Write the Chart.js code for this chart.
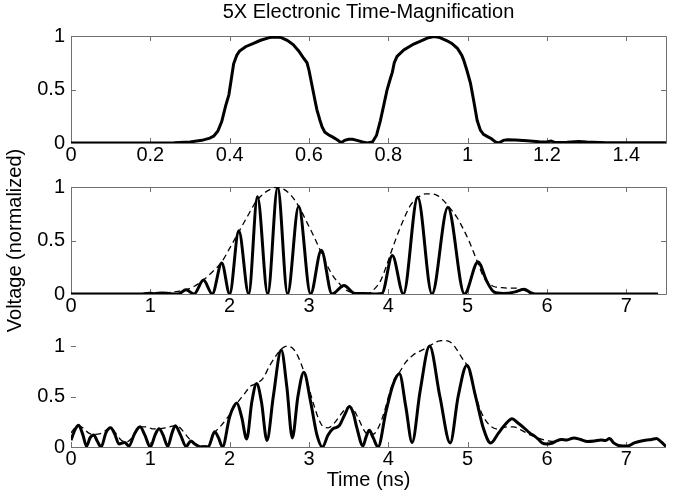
<!DOCTYPE html>
<html>
<head>
<meta charset="utf-8">
<script src="https://cdn.jsdelivr.net/npm/chart.js@4.4.1/dist/chart.umd.min.js"></script>
<style>
  html, body { margin: 0; padding: 0; background: #fff; }
  #wrap { position: relative; width: 674px; height: 495px; overflow: hidden; }
  canvas { position: absolute; left: 0; }
</style>
</head>
<body>
<div id="wrap">
  <canvas id="c1" width="674" height="170" style="top:0px"></canvas>
  <canvas id="c2" width="674" height="235" style="top:130px"></canvas>
  <canvas id="c3" width="674" height="175" style="top:320px"></canvas>
</div>
<script>
// top panel: input pulses (0 - 1.5 ns)
const t1 = [0, 0.1, 0.2, 0.26, 0.3, 0.33, 0.35, 0.36, 0.37, 0.38, 0.39, 0.398, 0.405, 0.41, 0.418, 0.425, 0.44, 0.46, 0.478, 0.5,
  0.515, 0.53, 0.545, 0.56, 0.574, 0.585, 0.595, 0.6, 0.608, 0.615, 0.62, 0.627, 0.633, 0.64, 0.65, 0.66, 0.671, 0.681, 0.69, 0.7,
  0.71, 0.721, 0.735, 0.747, 0.76, 0.77, 0.78, 0.79, 0.797, 0.805, 0.81, 0.815, 0.822, 0.839, 0.864, 0.88, 0.898, 0.915, 0.93, 0.948,
  0.96, 0.974, 0.985, 0.99, 0.998, 1.007, 1.015, 1.024, 1.032, 1.04, 1.05, 1.06, 1.07, 1.078, 1.09, 1.1, 1.12, 1.15, 1.18, 1.2,
  1.21, 1.22, 1.25, 1.28, 1.3, 1.35, 1.4, 1.45, 1.5];
const v1 = [0, 0, 0, 0.002, 0.01, 0.025, 0.045, 0.065, 0.11, 0.2, 0.35, 0.45, 0.62, 0.74, 0.82, 0.86, 0.9, 0.93, 0.96, 0.985,
  0.99, 0.985, 0.96, 0.92, 0.86, 0.8, 0.75, 0.68, 0.53, 0.4, 0.31, 0.22, 0.15, 0.1, 0.075, 0.055, 0.03, 0.003, 0.025, 0.035,
  0.035, 0.025, 0.01, 0, 0.01, 0.07, 0.21, 0.38, 0.5, 0.6, 0.66, 0.75, 0.81, 0.87, 0.925, 0.95, 0.98, 0.995, 0.985, 0.955,
  0.93, 0.885, 0.82, 0.775, 0.68, 0.56, 0.4, 0.21, 0.12, 0.08, 0.06, 0.04, 0.01, 0, 0.025, 0.03, 0.028, 0.02, 0.012, 0.01,
  0.018, 0.005, 0.008, 0.015, 0.01, 0.003, 0.003, 0.002, 0.002];

// middle panel: simulated output (solid) and envelope (dashed)
const t2 = [0, 0.9, 1.0, 1.05, 1.15, 1.25, 1.35, 1.45, 1.55, 1.67, 1.78, 1.9, 2.0, 2.115, 2.24, 2.35, 2.48, 2.605, 2.73, 2.87,
  3.02, 3.155, 3.29, 3.44, 3.58, 3.7, 3.85, 3.92, 4.05, 4.19, 4.37, 4.55, 4.75, 4.96, 5.13, 5.24, 5.33, 5.45, 5.6, 5.71,
  5.8, 5.85, 7.4];
const v2 = [0, 0, 0.008, 0.003, 0.01, 0.003, 0, 0.04, 0, 0.13, 0, 0.29, 0, 0.59, 0, 0.91, 0, 1.0, 0, 0.82,
  0, 0.41, 0, 0.08, 0.005, 0.005, 0, 0.005, 0.36, 0, 0.905, 0, 0.81, 0, 0.3, 0.12, 0.02, 0.005, 0.02, 0.045,
  0.01, 0, 0];
const t2env = [0.8, 1.0, 1.2, 1.35, 1.45, 1.55, 1.65, 1.8, 1.9, 2.01, 2.1, 2.22, 2.33, 2.43, 2.52, 2.6, 2.68, 2.77, 2.87, 2.98,
  3.06, 3.14, 3.22, 3.31, 3.38, 3.44, 3.5, 3.56, 3.65, 3.73, 3.8, 3.9, 3.97, 4.03, 4.15, 4.28, 4.37, 4.47, 4.55, 4.62,
  4.7, 4.78, 4.87, 4.95, 5.02, 5.08, 5.15, 5.2, 5.27, 5.33, 5.42, 5.5, 5.6, 5.67, 5.73, 5.79, 5.85];
const v2env = [0, 0.005, 0.01, 0.025, 0.04, 0.07, 0.12, 0.22, 0.3, 0.44, 0.56, 0.72, 0.86, 0.94, 0.98, 1.0, 0.98, 0.925, 0.82, 0.66,
  0.54, 0.41, 0.28, 0.16, 0.1, 0.05, 0.025, 0.01, 0.003, 0, 0.03, 0.12, 0.25, 0.38, 0.62, 0.83, 0.9, 0.935, 0.935, 0.92,
  0.87, 0.8, 0.71, 0.6, 0.49, 0.38, 0.25, 0.16, 0.1, 0.07, 0.06, 0.055, 0.055, 0.05, 0.03, 0.005, 0];

// bottom panel: measured output (solid) and envelope (dashed)
const t3 = [0, 0.05, 0.097, 0.15, 0.195, 0.24, 0.287, 0.33, 0.38, 0.44, 0.5, 0.55, 0.605, 0.677, 0.73, 0.8, 0.87, 0.93, 1.0, 1.06,
  1.11, 1.16, 1.22, 1.27, 1.315, 1.38, 1.45, 1.51, 1.56, 1.64, 1.73, 1.81, 1.86, 1.91, 2.0, 2.09, 2.15, 2.215, 2.28, 2.34,
  2.4, 2.47, 2.55, 2.65, 2.72, 2.79, 2.86, 2.935, 3.02, 3.1, 3.17, 3.24, 3.3, 3.38, 3.45, 3.51, 3.56, 3.6, 3.68, 3.72,
  3.76, 3.81, 3.87, 3.97, 4.06, 4.14, 4.22, 4.3, 4.4, 4.52, 4.65, 4.78, 4.88, 4.99, 5.1, 5.2, 5.29, 5.39, 5.47, 5.56,
  5.63, 5.71, 5.78, 5.84, 5.9, 5.94, 6.0, 6.07, 6.12, 6.18, 6.25, 6.34, 6.42, 6.51, 6.6, 6.68, 6.74, 6.79, 6.84, 6.9,
  6.96, 7.02, 7.1, 7.19, 7.26, 7.32, 7.38, 7.44, 7.5];
const v3 = [0.066, 0.17, 0.215, 0.12, 0.007, 0.09, 0.12, 0.06, 0, 0.14, 0.19, 0.13, 0.03, 0.045, 0.01, 0.13, 0.2, 0.12, 0, 0.12,
  0.18, 0.12, 0.005, 0.13, 0.21, 0.12, 0.005, 0.06, 0.03, 0, 0, 0.15, 0.09, 0, 0.3, 0.435, 0.3, 0.08, 0.45, 0.63,
  0.45, 0.065, 0.5, 0.96, 0.6, 0.09, 0.5, 0.74, 0.45, 0.12, 0, 0.12, 0.18, 0.21, 0.32, 0.4, 0.33, 0.2, 0.01, 0.1,
  0.165, 0.09, 0, 0.35, 0.62, 0.725, 0.4, 0.045, 0.55, 1.0, 0.5, 0.04, 0.5, 0.81, 0.5, 0.18, 0.04, 0.14, 0.22, 0.28,
  0.24, 0.19, 0.14, 0.11, 0.07, 0.04, 0.03, 0.04, 0.06, 0.075, 0.07, 0.09, 0.075, 0.055, 0.06, 0.07, 0.065, 0.085, 0.04, 0.015,
  0.01, 0.01, 0.04, 0.06, 0.07, 0.075, 0.085, 0.05, 0.005];
const t3env = [0, 0.05, 0.1, 0.15, 0.22, 0.29, 0.36, 0.43, 0.5, 0.57, 0.63, 0.7, 0.78, 0.87, 0.95, 1.03, 1.11, 1.2, 1.3, 1.36,
  1.42, 1.48, 1.55, 1.62, 1.72, 1.8, 1.9, 2.0, 2.09, 2.18, 2.26, 2.34, 2.42, 2.5, 2.58, 2.65, 2.72, 2.79, 2.86, 2.93,
  3.0, 3.06, 3.12, 3.18, 3.24, 3.3, 3.38, 3.45, 3.51, 3.57, 3.63, 3.69, 3.75, 3.82, 3.88, 3.95, 4.02, 4.08, 4.14, 4.22,
  4.31, 4.4, 4.5, 4.6, 4.69, 4.78, 4.85, 4.93, 4.99, 5.06, 5.12, 5.18, 5.24, 5.3, 5.36, 5.43, 5.5, 5.58, 5.67, 5.76,
  5.85, 5.94, 6.02, 6.08];
const v3env = [0.14, 0.19, 0.21, 0.19, 0.14, 0.125, 0.13, 0.16, 0.19, 0.13, 0.07, 0.05, 0.1, 0.2, 0.2, 0.18, 0.18, 0.19, 0.21, 0.2,
  0.15, 0.09, 0.04, 0.01, 0.01, 0.13, 0.22, 0.32, 0.43, 0.52, 0.6, 0.63, 0.68, 0.8, 0.9, 0.97, 1.0, 0.98, 0.9, 0.76,
  0.58, 0.42, 0.28, 0.2, 0.19, 0.22, 0.3, 0.37, 0.4, 0.36, 0.27, 0.17, 0.12, 0.13, 0.2, 0.35, 0.55, 0.68, 0.74, 0.84,
  0.91, 0.95, 0.99, 1.04, 1.055, 1.04, 0.98, 0.88, 0.81, 0.64, 0.46, 0.33, 0.25, 0.2, 0.18, 0.19, 0.2, 0.2, 0.17, 0.13,
  0.1, 0.075, 0.06, 0.055];

// tick values
const xTicksTop = [0, 0.2, 0.4, 0.6, 0.8, 1, 1.2, 1.4];
const xTicksNs = [0, 1, 2, 3, 4, 5, 6, 7];
const yTicks = [0, 0.5, 1];

const FONT = { family: 'Liberation Sans, Arial, sans-serif', size: 20, weight: 'normal' };

const pts = (xs, ys) => xs.map((x, i) => ({ x: x, y: ys[i] }));

// MATLAB style box with inward ticks
const axesBox = {
    id: 'axesBox',
    beforeDatasetsDraw(chart, args, opts) {
        const { ctx, chartArea: a, scales: { x, y } } = chart;
        ctx.save();
        ctx.strokeStyle = '#707070';
        ctx.lineWidth = 1;
        ctx.beginPath();
        if (opts.box) {
            ctx.rect(a.left + 0.5, a.top + 0.5, a.right - a.left, a.bottom - a.top);
        } else {
            ctx.moveTo(a.left, a.bottom + 0.5);
            ctx.lineTo(a.right, a.bottom + 0.5);
        }
        x.ticks.forEach(t => {
            const px = Math.round(x.getPixelForValue(t.value)) + 0.5;
            ctx.moveTo(px, a.bottom); ctx.lineTo(px, a.bottom - 5);
            if (opts.box) { ctx.moveTo(px, a.top); ctx.lineTo(px, a.top + 5); }
        });
        y.ticks.forEach(t => {
            const py = Math.round(y.getPixelForValue(t.value)) + 0.5;
            ctx.moveTo(a.left, py); ctx.lineTo(a.left + 5, py);
            if (opts.box) { ctx.moveTo(a.right, py); ctx.lineTo(a.right - 5, py); }
        });
        ctx.stroke();
        ctx.restore();
    }
};

function makeChart(id, cfg) {
    const datasets = cfg.series.map(s => ({
        data: s.data,
        borderColor: '#000',
        borderWidth: s.dashed ? 1.3 : 3,
        borderDash: s.dashed ? [6, 4] : [],
        pointRadius: 0,
        fill: false,
        tension: 0,
        cubicInterpolationMode: s.smooth ? 'monotone' : 'default'
    }));
    return new Chart(document.getElementById(id), {
        type: 'line',
        data: { datasets: datasets },
        plugins: [axesBox],
        options: {
            responsive: false,
            animation: false,
            devicePixelRatio: 1,
            layout: { padding: { top: cfg.padTop, right: 8, left: 0, bottom: 0 } },
            plugins: {
                legend: { display: false },
                tooltip: { enabled: false },
                axesBox: { box: cfg.box },
                title: cfg.title ? {
                    display: true, text: cfg.title, color: '#000', font: FONT,
                    fullSize: false,
                    padding: { top: 0, bottom: 12 }
                } : { display: false }
            },
            scales: {
                x: {
                    type: 'linear', min: 0, max: cfg.xMax,
                    afterBuildTicks: s => { s.ticks = cfg.xTicks.map(v => ({ value: v })); },
                    afterFit: s => { s.height = cfg.xHeight; },
                    ticks: { color: '#000', font: FONT, padding: 0, maxRotation: 0, callback: v => String(v) },
                    grid: { display: false, drawTicks: false },
                    border: { display: false },
                    title: cfg.xTitle ? {
                        display: true, text: cfg.xTitle, color: '#000', font: FONT,
                        padding: { top: 0, bottom: 3 }
                    } : { display: false }
                },
                y: {
                    type: 'linear', min: 0, max: cfg.yMax,
                    afterBuildTicks: s => { s.ticks = yTicks.map(v => ({ value: v })); },
                    afterFit: s => { s.width = 71; },
                    ticks: { color: '#000', font: FONT, padding: 6, callback: v => String(v) },
                    grid: { display: false, drawTicks: false },
                    border: { display: false },
                    title: cfg.yTitle ? {
                        display: true, text: cfg.yTitle, color: '#000', font: FONT,
                        padding: { top: 3, bottom: 0 }
                    } : { display: false }
                }
            }
        }
    });
}

makeChart('c1', {
    title: '5X Electronic Time-Magnification',
    padTop: 0, xHeight: 27, xMax: 1.5, yMax: 1, xTicks: xTicksTop, box: true,
    series: [{ data: pts(t1, v1) }]
});

makeChart('c2', {
    yTitle: 'Voltage (normalized)',
    padTop: 57, xHeight: 71, xMax: 7.5, yMax: 1, xTicks: xTicksNs, box: true,
    series: [
        { data: pts(t2env, v2env), dashed: true, smooth: true },
        { data: pts(t2, v2), smooth: true }
    ]
});

makeChart('c3', {
    xTitle: 'Time (ns)',
    padTop: 20, xHeight: 48, xMax: 7.5, yMax: 1.06, xTicks: xTicksNs, box: false,
    series: [
        { data: pts(t3env, v3env), dashed: true, smooth: true },
        { data: pts(t3, v3), smooth: true }
    ]
});
</script>
</body>
</html>
